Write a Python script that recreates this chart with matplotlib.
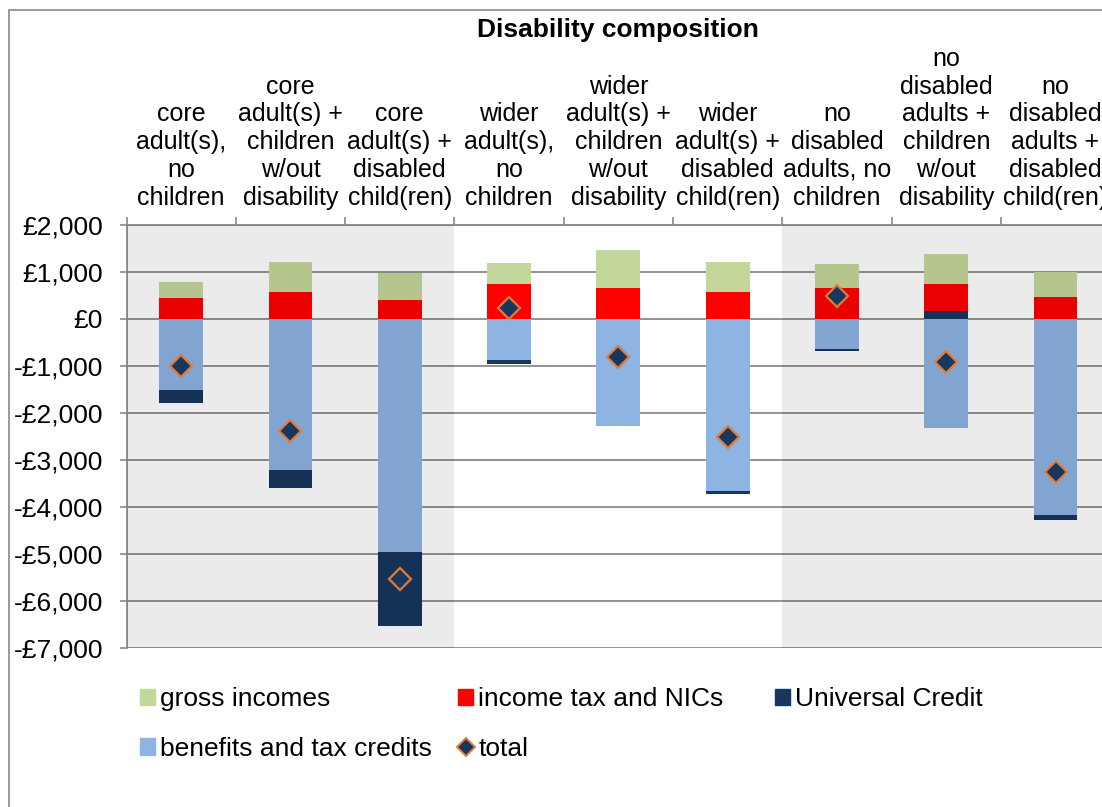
import numpy as np
import matplotlib
matplotlib.use("Agg")
import matplotlib.pyplot as plt
from matplotlib.patches import Patch, Rectangle
from matplotlib.lines import Line2D
from matplotlib.ticker import FuncFormatter

plt.rcParams['font.family'] = ['Liberation Sans', 'DejaVu Sans']

# categories (household disability composition)
categories = [
    "core\nadult(s),\nno\nchildren",
    "core\nadult(s) +\nchildren\nw/out\ndisability",
    "core\nadult(s) +\ndisabled\nchild(ren)",
    "wider\nadult(s),\nno\nchildren",
    "wider\nadult(s) +\nchildren\nw/out\ndisability",
    "wider\nadult(s) +\ndisabled\nchild(ren)",
    "no\ndisabled\nadults, no\nchildren",
    "no\ndisabled\nadults +\nchildren\nw/out\ndisability",
    "no\ndisabled\nadults +\ndisabled\nchild(ren)",
]

# values in £ per year
gross_incomes = [333, 646, 575, 446, 801, 639, 503, 638, 532]
income_tax_nics = [447, 567, 411, 738, 660, 567, 660, 582, 461]
universal_credit = [-294, -383, -1560, -92, 0, -63, -50, 170, -93]
benefits_tax_credits = [-1500, -3220, -4965, -865, -2277, -3660, -638, -2312, -4177]
total = [-1000, -2376, -5530, 241, -816, -2500, 482, -908, -3262]

c_gross = "#c4d79b"
c_tax = "#ff0000"
c_uc = "#17375e"
c_ben = "#8db4e2"
c_edge = "#e07b39"
c_grid = "#898989"

fig = plt.figure(figsize=(11.02, 8.07), dpi=100)
ax = fig.add_axes([126.5 / 1102, 1 - 648 / 807, 983.7 / 1102, 423 / 807])

x = np.arange(len(categories))
width = 0.4

# stack: benefits, UC, tax, gross (positive up, negative down)
pos_base = np.zeros(len(x))
neg_base = np.zeros(len(x))
for vals, col in [(benefits_tax_credits, c_ben), (universal_credit, c_uc),
                  (income_tax_nics, c_tax), (gross_incomes, c_gross)]:
    v = np.array(vals, dtype=float)
    base = np.where(v >= 0, pos_base, neg_base)
    ax.bar(x, v, width, bottom=base, color=col, zorder=2, linewidth=0)
    pos_base = pos_base + np.where(v > 0, v, 0)
    neg_base = neg_base + np.where(v < 0, v, 0)

# shaded groups (darken bars too, like the original overlay)
ax.axvspan(-0.5, 2.5, color="black", alpha=0.08, lw=0, zorder=3)
ax.axvspan(5.5, 8.5, color="black", alpha=0.08, lw=0, zorder=3)

ax.plot(x, total, linestyle="none", marker="D", markersize=11,
        markerfacecolor=c_uc, markeredgecolor=c_edge, markeredgewidth=1.6, zorder=4)

ax.set_xlim(-0.5, 8.5)
ax.set_ylim(-7000, 2000)
ax.set_yticks(np.arange(-7000, 2001, 1000))
ax.yaxis.set_major_formatter(FuncFormatter(
    lambda v, p: ("-£{:,.0f}".format(-v) if v < 0 else "£{:,.0f}".format(v))))
ax.grid(axis="y", color=c_grid, linewidth=1.3, zorder=1)
ax.set_axisbelow(True)

ax.xaxis.tick_top()
ax.set_xticks(x)
ax.set_xticklabels(categories, fontsize=18, linespacing=1.2)
ax.set_xticks(np.arange(-0.5, 9, 1), minor=True)
ax.tick_params(axis="x", which="major", length=0, pad=11)
ax.tick_params(axis="x", which="minor", length=6, width=1.2, color=c_grid, direction="out")
ax.tick_params(axis="y", length=5, width=1.2, color=c_grid, labelsize=19, pad=12)

for s in ["right", "bottom"]:
    ax.spines[s].set_visible(False)
for s in ["left", "top"]:
    ax.spines[s].set_color(c_grid)
    ax.spines[s].set_linewidth(1.3)

fig.text(618 / 1102, 1 - 30 / 807, "Disability composition", ha="center", va="center",
         fontsize=19, fontweight="bold")

# outer chart border
fig.patches.append(Rectangle((9 / 1102, -0.1), 1.2, 1.1 - 10 / 807, transform=fig.transFigure,
                             fill=False, edgecolor=c_grid, linewidth=1.2))

h_gross = Patch(color=c_gross)
h_ben = Patch(color=c_ben)
h_tax = Patch(color=c_tax)
h_uc = Patch(color=c_uc)
h_tot = Line2D([], [], linestyle="none", marker="D", markersize=9,
               markerfacecolor=c_uc, markeredgecolor=c_edge, markeredgewidth=1.4)

leg_kw = dict(loc="upper left", frameon=False, fontsize=19, handlelength=0.57,
              handleheight=0.57, handletextpad=0.2, labelspacing=0.98,
              borderpad=0, borderaxespad=0)
cols = [([h_gross, h_ben], ["gross incomes", "benefits and tax credits"], 140),
        ([h_tax, h_tot], ["income tax and NICs", "total"], 458),
        ([h_uc], ["Universal Credit"], 775)]
for hs, ls, xp in cols:
    fig.legend(hs, ls, bbox_to_anchor=(xp / 1102, 1 - 687 / 807), **leg_kw)

fig.savefig("out.png", dpi=100)
